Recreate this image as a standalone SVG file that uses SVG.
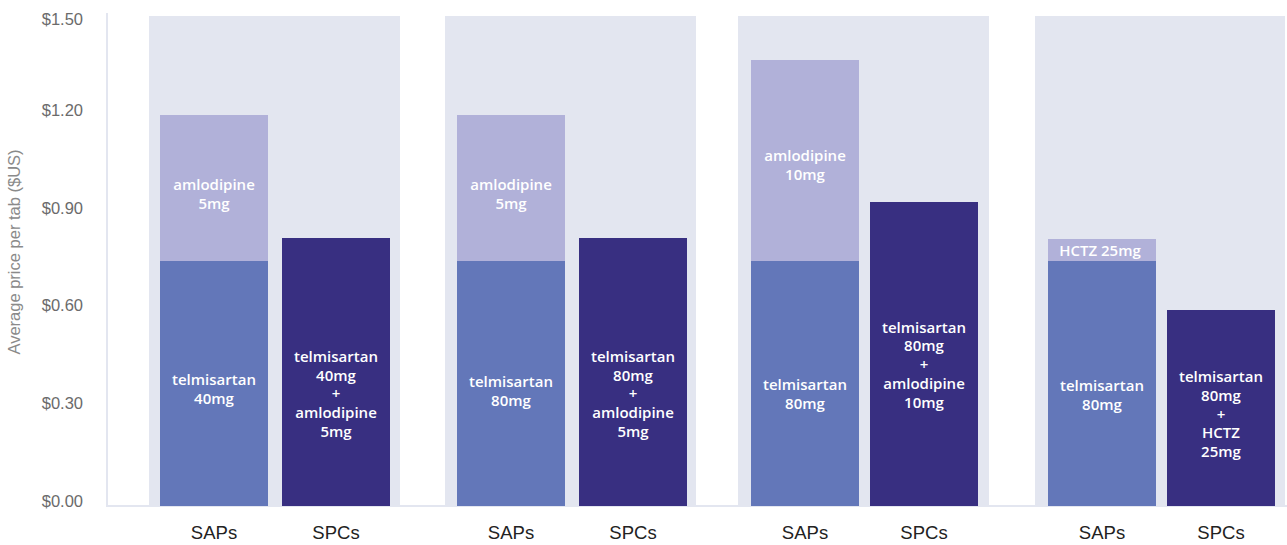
<svg xmlns="http://www.w3.org/2000/svg" width="1287" height="545" viewBox="0 0 1287 545">
  <style>
    .panel { fill: #E3E6F0; }
    .amlo { fill: #B1B1D9; }
    .telmi { fill: #6377B9; }
    .spc { fill: #382F81; }
    .axis { fill: #E3E6F0; }
    .tick { font-family: "Liberation Sans", Arial, sans-serif; font-size: 16.5px; fill: #6B6B6B; text-anchor: end; }
    .title { font-family: "Liberation Sans", Arial, sans-serif; font-size: 16.5px; fill: #8A8A8A; text-anchor: middle; }
    .xl { font-family: "Liberation Sans", Arial, sans-serif; font-size: 18.5px; fill: #222222; text-anchor: middle; }
    .bl { font-family: "Open Sans", "Liberation Sans", sans-serif; font-size: 15px; font-weight: 600; fill: #FFFFFF; text-anchor: middle; }
  </style>
  <rect width="1287" height="545" fill="#FFFFFF"/>

  <g id="panels">
    <rect class="panel" x="149" y="16" width="251" height="490"/>
    <rect class="panel" x="445" y="16" width="251" height="490"/>
    <rect class="panel" x="738" y="16" width="251" height="490"/>
    <rect class="panel" x="1035" y="16" width="250" height="490"/>
  </g>

  <g id="axes">
    <rect class="axis" x="106" y="13" width="2" height="494"/>
    <rect class="axis" x="106" y="505" width="1181" height="2"/>
    <text class="tick" x="83" y="25">$1.50</text>
    <text class="tick" x="83" y="116">$1.20</text>
    <text class="tick" x="83" y="213.5">$0.90</text>
    <text class="tick" x="83" y="311">$0.60</text>
    <text class="tick" x="83" y="409">$0.30</text>
    <text class="tick" x="83" y="506.5">$0.00</text>
    <text class="title" transform="translate(20,252) rotate(-90)">Average price per tab ($US)</text>
  </g>

  <g id="group1">
    <g id="g1-sap">
      <rect class="amlo" x="160" y="115" width="108" height="146"/>
      <rect class="telmi" x="160" y="261" width="108" height="245"/>
      <text class="bl" x="214" y="190">amlodipine</text>
      <text class="bl" x="214" y="209">5mg</text>
      <text class="bl" x="214" y="385">telmisartan</text>
      <text class="bl" x="214" y="404">40mg</text>
    </g>
    <g id="g1-spc">
      <rect class="spc" x="282" y="238" width="108" height="268"/>
      <text class="bl" x="336" y="362">telmisartan</text>
      <text class="bl" x="336" y="381">40mg</text>
      <text class="bl" x="336" y="399">+</text>
      <text class="bl" x="336" y="418">amlodipine</text>
      <text class="bl" x="336" y="437">5mg</text>
    </g>
    <text class="xl" x="214" y="539">SAPs</text>
    <text class="xl" x="336" y="539">SPCs</text>
  </g>

  <g id="group2">
    <g id="g2-sap">
      <rect class="amlo" x="457" y="115" width="108" height="146"/>
      <rect class="telmi" x="457" y="261" width="108" height="245"/>
      <text class="bl" x="511" y="190">amlodipine</text>
      <text class="bl" x="511" y="209">5mg</text>
      <text class="bl" x="511" y="387">telmisartan</text>
      <text class="bl" x="511" y="406">80mg</text>
    </g>
    <g id="g2-spc">
      <rect class="spc" x="579" y="238" width="108" height="268"/>
      <text class="bl" x="633" y="362">telmisartan</text>
      <text class="bl" x="633" y="381">80mg</text>
      <text class="bl" x="633" y="399">+</text>
      <text class="bl" x="633" y="418">amlodipine</text>
      <text class="bl" x="633" y="437">5mg</text>
    </g>
    <text class="xl" x="511" y="539">SAPs</text>
    <text class="xl" x="633" y="539">SPCs</text>
  </g>

  <g id="group3">
    <g id="g3-sap">
      <rect class="amlo" x="751" y="60" width="108" height="201"/>
      <rect class="telmi" x="751" y="261" width="108" height="245"/>
      <text class="bl" x="805" y="161">amlodipine</text>
      <text class="bl" x="805" y="180">10mg</text>
      <text class="bl" x="805" y="390">telmisartan</text>
      <text class="bl" x="805" y="409">80mg</text>
    </g>
    <g id="g3-spc">
      <rect class="spc" x="870" y="202" width="108" height="304"/>
      <text class="bl" x="924" y="333">telmisartan</text>
      <text class="bl" x="924" y="351">80mg</text>
      <text class="bl" x="924" y="370">+</text>
      <text class="bl" x="924" y="389">amlodipine</text>
      <text class="bl" x="924" y="408">10mg</text>
    </g>
    <text class="xl" x="805" y="539">SAPs</text>
    <text class="xl" x="924" y="539">SPCs</text>
  </g>

  <g id="group4">
    <g id="g4-sap">
      <rect class="amlo" x="1048" y="239" width="108" height="22"/>
      <rect class="telmi" x="1048" y="261" width="108" height="245"/>
      <text class="bl" x="1100" y="256">HCTZ 25mg</text>
      <text class="bl" x="1102" y="391">telmisartan</text>
      <text class="bl" x="1102" y="410">80mg</text>
    </g>
    <g id="g4-spc">
      <rect class="spc" x="1167" y="310" width="108" height="196"/>
      <text class="bl" x="1221" y="382">telmisartan</text>
      <text class="bl" x="1221" y="401">80mg</text>
      <text class="bl" x="1221" y="419.5">+</text>
      <text class="bl" x="1221" y="438">HCTZ</text>
      <text class="bl" x="1221" y="457">25mg</text>
    </g>
    <text class="xl" x="1102" y="539">SAPs</text>
    <text class="xl" x="1221" y="539">SPCs</text>
  </g>
</svg>
